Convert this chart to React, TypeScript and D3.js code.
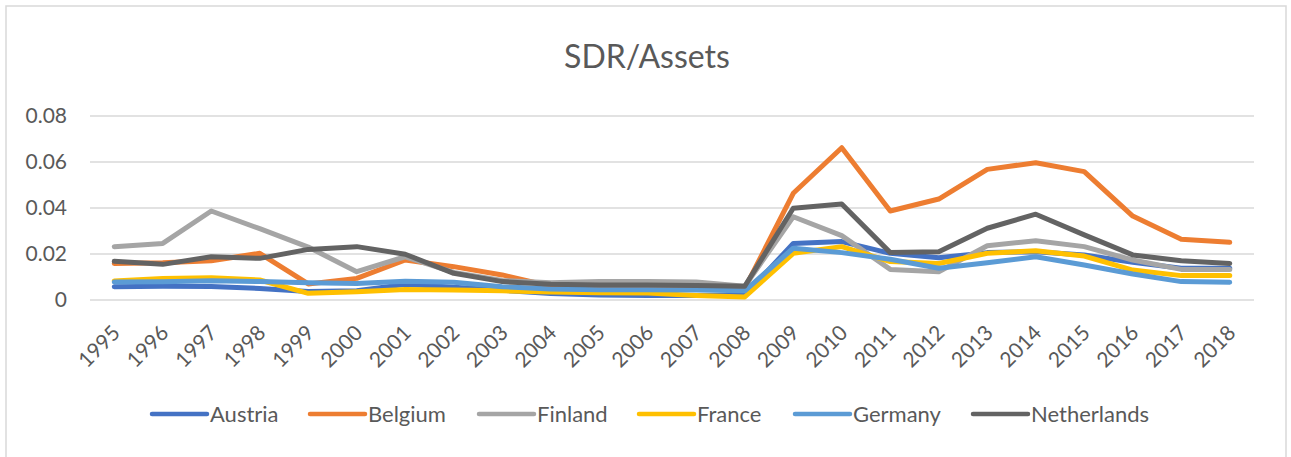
import * as d3 from 'd3';
import { useEffect } from 'react';

const years = ['1995','1996','1997','1998','1999','2000','2001','2002','2003','2004','2005','2006','2007','2008','2009','2010','2011','2012','2013','2014','2015','2016','2017','2018'];

const austria = [0.0058,0.0060,0.0059,0.0050,0.0037,0.0040,0.0068,0.0055,0.0042,0.0028,0.0022,0.0020,0.0020,0.0020,0.0246,0.0254,0.0203,0.0184,0.0206,0.0210,0.0196,0.0164,0.0138,0.0138];
const belgium = [0.0159,0.0162,0.0171,0.0203,0.0070,0.0094,0.0174,0.0145,0.0109,0.0060,0.0052,0.0052,0.0050,0.0050,0.0464,0.0662,0.0387,0.0439,0.0568,0.0597,0.0558,0.0365,0.0264,0.0251];
const finland = [0.0232,0.0246,0.0387,0.0310,0.0230,0.0123,0.0188,0.0120,0.0085,0.0075,0.0080,0.0080,0.0078,0.0060,0.0362,0.0280,0.0133,0.0123,0.0236,0.0258,0.0232,0.0174,0.0133,0.0133];
const france = [0.0083,0.0094,0.0097,0.0087,0.0029,0.0036,0.0046,0.0043,0.0040,0.0035,0.0032,0.0030,0.0020,0.0013,0.0203,0.0232,0.0167,0.0159,0.0203,0.0214,0.0191,0.0130,0.0106,0.0106];
const germany = [0.0078,0.0079,0.0084,0.0080,0.0075,0.0072,0.0081,0.0077,0.0058,0.0048,0.0045,0.0045,0.0043,0.0040,0.0225,0.0206,0.0177,0.0138,0.0162,0.0188,0.0152,0.0113,0.0080,0.0077];
const netherlands = [0.0168,0.0155,0.0188,0.0181,0.0220,0.0232,0.0199,0.0116,0.0080,0.0068,0.0065,0.0065,0.0063,0.0060,0.0399,0.0417,0.0206,0.0210,0.0312,0.0373,0.0283,0.0196,0.0171,0.0159];

const yTicks = [0, 0.02, 0.04, 0.06, 0.08];

const series = [
  { name: 'Austria', values: austria, color: '#4472C4' },
  { name: 'Belgium', values: belgium, color: '#ED7D31' },
  { name: 'Finland', values: finland, color: '#A5A5A5' },
  { name: 'France', values: france, color: '#FFC000' },
  { name: 'Germany', values: germany, color: '#5B9BD5' },
  { name: 'Netherlands', values: netherlands, color: '#636363' },
];

// legend x positions (line start)
const legendX = [152, 310, 479, 639, 795, 973];

const W = 1291;
const H = 457;
const FONT = 'Lato, "Open Sans", sans-serif';
const TXT = '#595959';

export default function App() {
  useEffect(() => {
    document.body.style.margin = '0';
  }, []);

  const x = d3.scaleBand<string>().domain(years).range([90, 1254]);
  const y = d3.scaleLinear().domain([0, 0.08]).range([300, 116]);
  const cx = (yr: string) => (x(yr) ?? 0) + x.bandwidth() / 2;

  const line = d3.line<number>()
    .x((_, i) => cx(years[i]))
    .y(d => y(d));

  return (
    <svg width={W} height={H} style={{ display: 'block' }} fontFamily={FONT}>
      <rect x={0} y={0} width={W} height={H} fill="#fff" />
      <rect x={6} y={6} width={1280} height={470} fill="#fff" stroke="#D9D9D9" strokeWidth={1.5} />

      <text x={647} y={68} textAnchor="middle" fontSize={32} fill={TXT}>SDR/Assets</text>

      {/* gridlines + y labels */}
      {yTicks.map(t => (
        <g key={t}>
          <line x1={90} x2={1254} y1={y(t)} y2={y(t)} stroke="#D9D9D9" strokeWidth={1.5} />
          <text x={67} y={y(t)} dy="0.35em" textAnchor="end" fontSize={21} fill={TXT}>
            {t === 0 ? '0' : t.toFixed(2)}
          </text>
        </g>
      ))}

      {/* x labels */}
      {years.map(yr => (
        <text key={yr} transform={`translate(${cx(yr) + 2},${329}) rotate(-45)`}
          textAnchor="end" dy="0.35em" fontSize={21} fill={TXT}>{yr}</text>
      ))}

      {/* lines */}
      {series.map(s => (
        <path key={s.name} d={line(s.values) ?? ''} fill="none" stroke={s.color}
          strokeWidth={5} strokeLinejoin="round" strokeLinecap="round" />
      ))}

      {/* legend */}
      {series.map((s, i) => (
        <g key={s.name} transform={`translate(${legendX[i]},414)`}>
          <line x1={0} x2={55} y1={0} y2={0} stroke={s.color} strokeWidth={4.5} strokeLinecap="round" />
          <text x={58} y={0} dy="0.35em" fontSize={22} fill={TXT}>{s.name}</text>
        </g>
      ))}
    </svg>
  );
}
